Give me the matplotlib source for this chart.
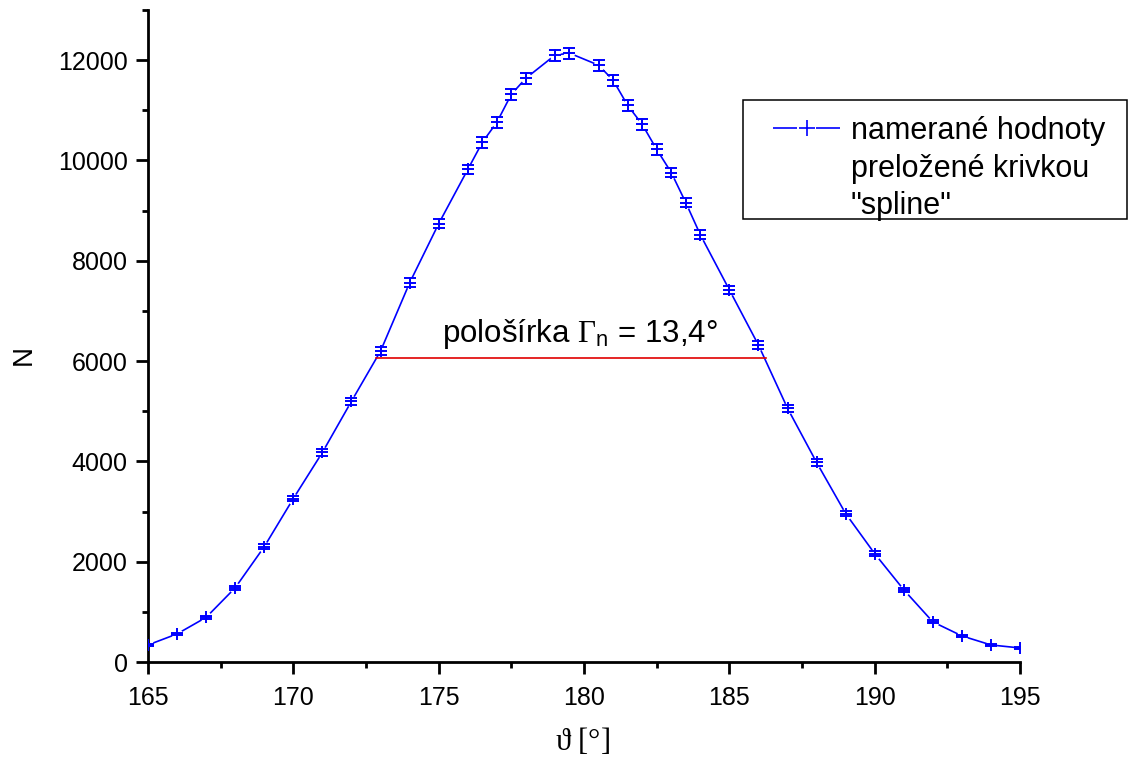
import matplotlib
matplotlib.use("Agg")
import matplotlib.pyplot as plt
from matplotlib.lines import Line2D
from matplotlib.patches import Rectangle
from matplotlib.legend_handler import HandlerLine2D
from matplotlib.ticker import MultipleLocator

plt.rcParams['font.family'] = ['Liberation Sans', 'DejaVu Sans']
plt.rcParams['mathtext.fontset'] = 'custom'
plt.rcParams['mathtext.rm'] = 'Liberation Serif'
plt.rcParams['mathtext.it'] = 'Liberation Serif:italic'
plt.rcParams['mathtext.sf'] = 'Liberation Sans'

# measured angles [deg] and counts
theta = [165, 166, 167, 168, 169, 170, 171, 172, 173, 174, 175, 176, 176.5,
         177, 177.5, 178, 179, 179.5, 180.5, 181, 181.5, 182, 182.5, 183,
         183.5, 184, 185, 186, 187, 188, 189, 190, 191, 192, 193, 194, 195]
counts = [340, 560, 890, 1480, 2300, 3260, 4180, 5200, 6200, 7560, 8740,
          9820, 10360, 10760, 11320, 11640, 12100, 12140, 11900, 11600,
          11100, 10720, 10220, 9760, 9160, 8520, 7420, 6320, 5060, 3980,
          2960, 2160, 1440, 800, 520, 340, 280]
errors = [18, 24, 30, 38, 48, 57, 65, 72, 79, 87, 93, 99, 102, 104, 106,
          108, 110, 110, 109, 108, 105, 104, 101, 99, 96, 92, 86, 80, 71,
          63, 54, 46, 38, 28, 23, 18, 17]

# half-width marker
fwhm_x = [172.85, 186.25]
fwhm_y = [6060, 6060]
fwhm_label = "pološírka $\\Gamma_{\\mathsf{n}}$ = 13,4°"

legend_labels = ['namerané hodnoty', 'preložené krivkou', '"spline"']

blue = '#0000ff'

fig = plt.figure(figsize=(11.29, 7.64), dpi=100)
ax = fig.add_axes([0.1311, 0.1335, 0.9035 - 0.1311, 0.9869 - 0.1335])

# line, then white masks so the line stops short of each marker (Origin look)
ax.plot(theta, counts, color=blue, lw=1.2, zorder=2)
ax.plot(theta, counts, ls='none', marker='o', ms=8, mfc='white', mec='none',
        zorder=2.5)
ax.errorbar(theta, counts, yerr=errors, fmt='+', color=blue,
            ms=9, mew=1.4, elinewidth=1.2, capsize=4.5, capthick=1.4, zorder=3)
ax.plot(fwhm_x, fwhm_y, color='#e00000', lw=1.2, zorder=3.5)
ax.text(179.86, 6380, fwhm_label, fontsize=22.5, ha='center', va='baseline')

ax.set_xlim(165, 195)
ax.set_ylim(0, 13000)
ax.xaxis.set_major_locator(MultipleLocator(5))
ax.xaxis.set_minor_locator(MultipleLocator(2.5))
ax.yaxis.set_major_locator(MultipleLocator(2000))
ax.yaxis.set_minor_locator(MultipleLocator(1000))

for s in ['top', 'right']:
    ax.spines[s].set_visible(False)
for s in ['left', 'bottom']:
    ax.spines[s].set_linewidth(2)

ax.tick_params(which='major', direction='out', length=8.6, width=2,
               labelsize=18)
ax.tick_params(axis='y', which='major', pad=6)
ax.tick_params(axis='x', which='major', pad=9)
ax.tick_params(which='minor', direction='out', length=4.5, width=2)

ax.set_xlabel('$\\mathrm{\\vartheta}$ [°]', fontsize=22,
              fontfamily='Liberation Serif')
ax.xaxis.set_label_coords(0.498, -0.098)
ax.set_ylabel('N', fontsize=20)
ax.yaxis.set_label_coords(-0.128, 0.471)

# legend: handle "-+-" with gaps, frame drawn separately
h1 = Line2D([], [], color=blue, lw=1.2, ls=(0, (14.4, 11.4)),
            marker='+', ms=11, mew=1.2)
blank = Line2D([], [], lw=0, alpha=0)
leg = fig.legend([h1, blank, blank], legend_labels,
                 loc='upper left', bbox_to_anchor=(0.6652, 0.8482),
                 bbox_transform=fig.transFigure, fontsize=22,
                 frameon=False, handlelength=2.93, handletextpad=0.33,
                 labelspacing=0.25, borderpad=0, borderaxespad=0,
                 handler_map={h1: HandlerLine2D(xpad=0.72)})
fig.patches.append(Rectangle((743 / 1129, 1 - 219 / 764),
                             (1127 - 743) / 1129, (219 - 100) / 764,
                             transform=fig.transFigure, fill=False,
                             edgecolor='black', lw=1.1))

fig.savefig('out.png', dpi=100)
